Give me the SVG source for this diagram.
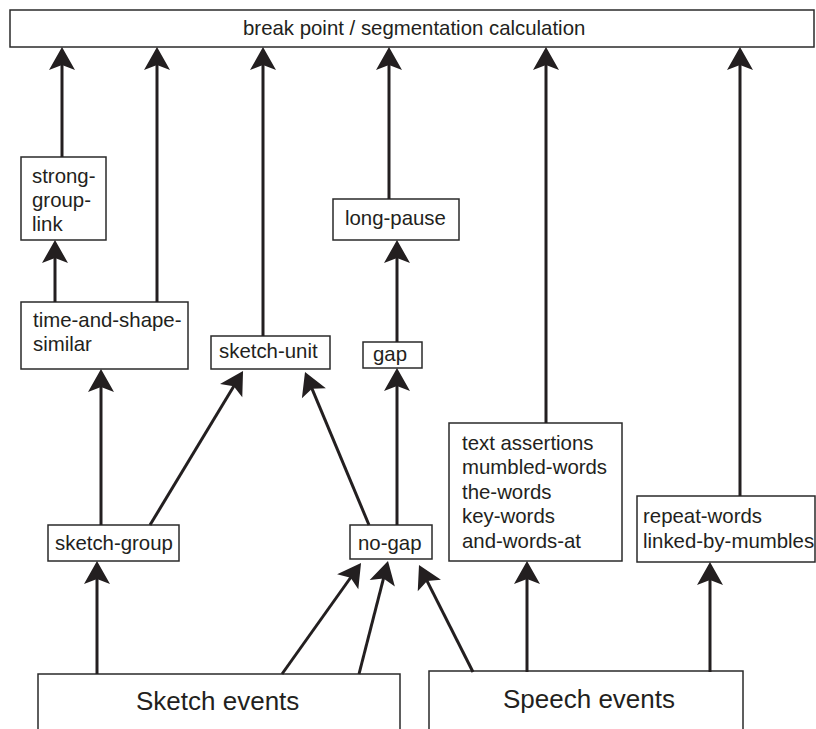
<svg xmlns="http://www.w3.org/2000/svg" width="816" height="729" viewBox="0 0 816 729">
<style>
.box{fill:#fff;stroke:#2a2a2a;stroke-width:1.5}
.t{font-family:"Liberation Sans",Arial,sans-serif;font-size:20.4px;fill:#231f20}
.big{font-size:26px}
.c line{stroke:#231f20;stroke-width:3;marker-end:url(#ah)}
</style>
<defs>
<marker id="ah" markerUnits="userSpaceOnUse" viewBox="0 0 24 26" markerWidth="24" markerHeight="26" refX="15" refY="13" orient="auto" overflow="visible">
<path d="M23,13 L0,0 L5,13 L0,26 Z" fill="#231f20"/>
</marker>
</defs>
<rect width="816" height="729" fill="#fff"/>
<g id="break-point">
<rect class="box" x="10" y="10" width="804" height="37"/>
<text class="t" x="243" y="35">break point / segmentation calculation</text>
</g>
<g id="strong-group-link">
<rect class="box" x="21" y="157" width="85" height="83"/>
<text class="t" x="32" y="183">strong-</text>
<text class="t" x="32" y="207">group-</text>
<text class="t" x="32" y="231">link</text>
</g>
<g id="time-and-shape-similar">
<rect class="box" x="21" y="302" width="167" height="67"/>
<text class="t" x="33" y="327">time-and-shape-</text>
<text class="t" x="33" y="351">similar</text>
</g>
<g id="sketch-unit">
<rect class="box" x="211" y="336" width="119" height="33"/>
<text class="t" x="219" y="358">sketch-unit</text>
</g>
<g id="long-pause">
<rect class="box" x="333" y="199" width="126" height="41"/>
<text class="t" x="345" y="225">long-pause</text>
</g>
<g id="gap">
<rect class="box" x="363" y="342" width="59" height="26"/>
<text class="t" x="373" y="361">gap</text>
</g>
<g id="sketch-group">
<rect class="box" x="48" y="525" width="131" height="36"/>
<text class="t" x="55" y="550">sketch-group</text>
</g>
<g id="no-gap">
<rect class="box" x="350" y="525" width="82" height="34"/>
<text class="t" x="358" y="550">no-gap</text>
</g>
<g id="text-assertions">
<rect class="box" x="449" y="423" width="173" height="138"/>
<text class="t" x="462" y="450">text assertions</text>
<text class="t" x="462" y="474">mumbled-words</text>
<text class="t" x="462" y="499">the-words</text>
<text class="t" x="462" y="523">key-words</text>
<text class="t" x="462" y="548">and-words-at</text>
</g>
<g id="repeat-words">
<rect class="box" x="637" y="496" width="178" height="66"/>
<text class="t" x="643" y="523">repeat-words</text>
<text class="t" x="643" y="548">linked-by-mumbles</text>
</g>
<g id="sketch-events">
<rect class="box" x="38" y="674" width="362" height="70"/>
<text class="t big" x="136" y="710">Sketch events</text>
</g>
<g id="speech-events">
<rect class="box" x="429" y="671" width="314" height="70"/>
<text class="t big" x="503" y="708">Speech events</text>
</g>
<g id="connectors" class="c">
<line x1="62" y1="157" x2="62" y2="55"/>
<line x1="157" y1="302" x2="157" y2="55"/>
<line x1="263" y1="336" x2="263" y2="55"/>
<line x1="389" y1="199" x2="389" y2="55"/>
<line x1="546" y1="423" x2="546" y2="55"/>
<line x1="740" y1="496" x2="740" y2="55"/>
<line x1="55" y1="302" x2="55" y2="248"/>
<line x1="101" y1="525" x2="101" y2="377"/>
<line x1="150" y1="525" x2="238.9" y2="377.8"/>
<line x1="369" y1="525" x2="308.1" y2="379.4"/>
<line x1="397" y1="342" x2="397" y2="248"/>
<line x1="397" y1="525" x2="397" y2="376"/>
<line x1="97" y1="674" x2="97" y2="569"/>
<line x1="282" y1="674" x2="356.4" y2="569.5"/>
<line x1="359" y1="674" x2="386" y2="568.7"/>
<line x1="473" y1="672" x2="422.6" y2="572.1"/>
<line x1="527" y1="672" x2="527" y2="569"/>
<line x1="710" y1="672" x2="710" y2="570"/>
</g>
</svg>
